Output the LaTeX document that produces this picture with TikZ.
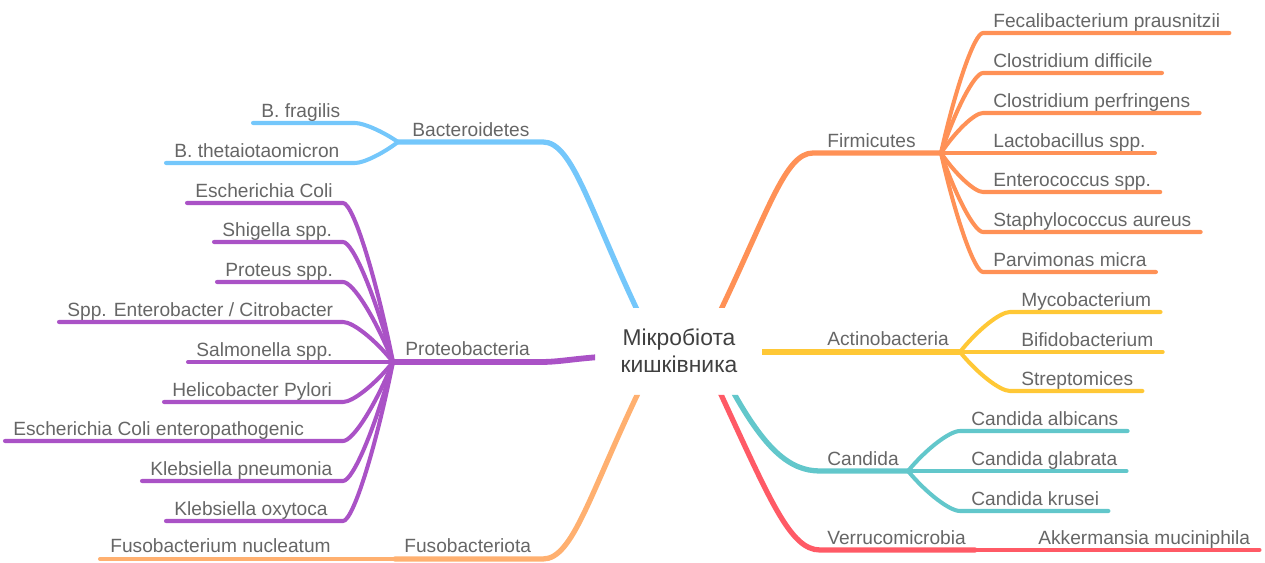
\documentclass[tikz,border=0pt]{standalone}
\usepackage{fontspec}
\setmainfont{Liberation Sans}
\usetikzlibrary{calc}

\definecolor{txt}{HTML}{666666}
\definecolor{ctr}{HTML}{404040}
\definecolor{cblue}{HTML}{74C7FB}
\definecolor{cpurple}{HTML}{AA52C6}
\definecolor{corange}{HTML}{FF9156}
\definecolor{cfuso}{HTML}{FFB070}
\definecolor{cyellow}{HTML}{FFC836}
\definecolor{cteal}{HTML}{62C7CB}
\definecolor{cred}{HTML}{FF5A66}

\newcommand\lblfont{\fontsize{10.9pt}{13pt}\selectfont}
\newcommand\ctrfont{\fontsize{13pt}{15.3pt}\selectfont}

\tikzset{
  lbl/.style={text=txt, font=\lblfont, inner sep=0pt, anchor=base west},
  trunk/.style={line width=3pt, line cap=round},
  twig/.style={line width=2.3pt, line cap=round},
  fan/.style={to path={let \p1=(\tikztostart), \p2=(\tikztotarget) in
      .. controls ({\x1+0.35*(\x2-\x1)},{\y1+0.55*(\y2-\y1)})
      and ({\x2-0.2*(\x2-\x1)},\y2) .. (\tikztotarget)}},
}

\begin{document}
\begin{tikzpicture}[x=0.02cm, y=-0.02cm]
\useasboundingbox (0,0) rectangle (1265,563);

% root
\node[align=center, text=ctr, font=\ctrfont, inner sep=0pt] (root) at (679,351)
  {Мікробіота\\кишківника};

% branch start points (inside the root's box) and junctions
\coordinate (cB) at (641,318);
\coordinate (cF) at (717,318);
\coordinate (cP) at (606,356.5);
\coordinate (cA) at (752,352);
\coordinate (cU) at (641,387);
\coordinate (cC) at (731,388);
\coordinate (cV) at (718,388);

\coordinate (jB) at (398,142);
\coordinate (jF) at (941,153);
\coordinate (jP) at (393,362);
\coordinate (jA) at (960,352);
\coordinate (jC) at (908,471);
\coordinate (jV) at (975,550);
\coordinate (jU) at (395,559);

% main branches, cut off flat around the root
\begin{scope}
  \clip (0,0) rectangle (1265,308) (0,395) rectangle (1265,563)
        (0,308) rectangle (595,395) (762,308) rectangle (1265,395);
  \draw[trunk,cblue] (cB) .. controls (590,212) and (573,142) .. (543,142) -- (jB);
  \draw[trunk,corange] (cF) .. controls (768,212) and (785,153) .. (813,153) -- (jF);
  \draw[trunk,cpurple,line width=3.3pt] (cP) .. controls (570,359) and (560,362) .. (540,362) -- (jP);
  \draw[trunk,cyellow] (cA) -- (jA);
  \draw[trunk,cfuso] (cU) .. controls (590,493) and (573,559) .. (543,559) -- (jU);
  \draw[trunk,cteal] (cC) .. controls (765,450) and (790,471) .. (820,471) -- (jC);
  \draw[trunk,cred] (cV) .. controls (770,500) and (790,550) .. (820,550) -- (jV);
\end{scope}

% ---------- Bacteroidetes ----------
\node[lbl] (nB) at (412,137) {Bacteroidetes};
\coordinate (b1) at (355,123); \coordinate (bl1) at (253,123);
\coordinate (b2) at (355,163); \coordinate (bl2) at (166,163);
\draw[twig,cblue] (jB) to[fan] (b1) -- (bl1);
\draw[twig,cblue] (jB) to[fan] (b2) -- (bl2);
\node[lbl] (bt1) at ($(bl1)+(8,-5)$) {B. fragilis};
\node[lbl] (bt2) at ($(bl2)+(8,-5)$) {B. thetaiotaomicron};

% ---------- Proteobacteria ----------
\node[lbl] (nP) at (405,356) {Proteobacteria};
\foreach \i/\y/\l in {1/203/187, 2/242/214, 3/282/217, 4/322/59, 5/362/188,
                      6/402/164, 7/441/5, 8/481/142, 9/521/166} {
  \coordinate (p\i) at (343,\y);
  \coordinate (pl\i) at (\l,\y);
  \draw[twig,cpurple] (jP) to[fan] (p\i) -- (pl\i);
}
\node[lbl] (pt1) at ($(pl1)+(8,-5)$) {Escherichia Coli};
\node[lbl] (pt2) at ($(pl2)+(8,-5)$) {Shigella spp.};
\node[lbl] (pt3) at ($(pl3)+(8,-5)$) {Proteus spp.};
\node[lbl] (pt4) at ($(pl4)+(8,-5)$) {Spp. Enterobacter / Citrobacter};
\node[lbl] (pt5) at ($(pl5)+(8,-5)$) {Salmonella spp.};
\node[lbl] (pt6) at ($(pl6)+(8,-5)$) {Helicobacter Pylori};
\node[lbl] (pt7) at ($(pl7)+(8,-5)$) {Escherichia Coli enteropathogenic};
\node[lbl] (pt8) at ($(pl8)+(8,-5)$) {Klebsiella pneumonia};
\node[lbl] (pt9) at ($(pl9)+(8,-5)$) {Klebsiella oxytoca};

% ---------- Fusobacteriota ----------
\coordinate (ul1) at (100,559);
\draw[twig,cfuso] (jU) -- (ul1);
\node[lbl] (nU) at (404,553) {Fusobacteriota};
\node[lbl] (ut1) at (110,553) {Fusobacterium nucleatum};

% ---------- Firmicutes ----------
\node[lbl] (nF) at (827,148) {Firmicutes};
\foreach \i/\y/\t in {1/33/Fecalibacterium prausnitzii, 2/73/Clostridium difficile,
                      3/113/Clostridium perfringens, 4/153/Lactobacillus spp.,
                      5/192/Enterococcus spp., 6/232/Staphylococcus aureus,
                      7/272/Parvimonas micra} {
  \coordinate (f\i) at (983,\y);
  \node[lbl] (ft\i) at (993,\y-5) {\t};
  \draw[twig,corange] (jF) to[fan] (f\i) -- ($(f\i -| ft\i.east)+(9,0)$);
}

% ---------- Actinobacteria ----------
\node[lbl] (nA) at (827,346) {Actinobacteria};
\foreach \i/\y/\t in {1/312/Mycobacterium, 2/352/Bifidobacterium, 3/391/Streptomices} {
  \coordinate (a\i) at (1010,\y);
  \node[lbl] (at\i) at (1021,\y-5) {\t};
  \draw[twig,cyellow] (jA) to[fan] (a\i) -- ($(a\i -| at\i.east)+(9,0)$);
}

% ---------- Candida ----------
\node[lbl] (nC) at (827,466) {Candida};
\foreach \i/\y/\t in {1/431/Candida albicans, 2/471/Candida glabrata, 3/511/Candida krusei} {
  \coordinate (c\i) at (960,\y);
  \node[lbl] (ct\i) at (971,\y-5) {\t};
  \draw[twig,cteal] (jC) to[fan] (c\i) -- ($(c\i -| ct\i.east)+(9,0)$);
}

% ---------- Verrucomicrobia ----------
\node[lbl] (nV) at (827,545) {Verrucomicrobia};
\node[lbl] (vt1) at (1038,545) {Akkermansia muciniphila};
\draw[twig,cred] (jV) -- ($(jV -| vt1.east)+(9,0)$);

\end{tikzpicture}
\end{document}
